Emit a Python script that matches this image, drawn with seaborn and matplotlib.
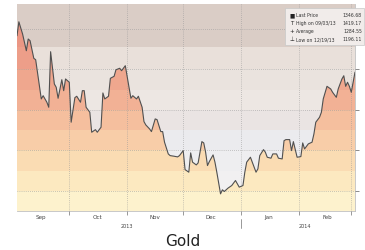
import numpy as np
import pandas as pd
import matplotlib as mpl
mpl.use("Agg")
from matplotlib import pyplot as plt
import matplotlib.dates as mdates
import seaborn as sns

# gold price (Sep 2013 - Mar 2014)
dates = ["2013-09-03", "2013-09-04", "2013-09-06", "2013-09-08", "2013-09-09", "2013-09-10",
         "2013-09-12", "2013-09-13", "2013-09-15", "2013-09-16", "2013-09-17", "2013-09-19",
         "2013-09-20", "2013-09-21", "2013-09-23", "2013-09-24", "2013-09-25", "2013-09-27",
         "2013-09-28", "2013-09-29", "2013-10-01", "2013-10-02", "2013-10-04", "2013-10-05",
         "2013-10-07", "2013-10-08", "2013-10-09", "2013-10-10", "2013-10-12", "2013-10-13",
         "2013-10-15", "2013-10-16", "2013-10-18", "2013-10-19", "2013-10-20", "2013-10-22",
         "2013-10-23", "2013-10-25", "2013-10-26", "2013-10-28", "2013-10-29", "2013-10-31",
         "2013-11-02", "2013-11-03", "2013-11-04", "2013-11-06", "2013-11-07", "2013-11-09",
         "2013-11-10", "2013-11-11", "2013-11-13", "2013-11-14", "2013-11-16", "2013-11-17",
         "2013-11-19", "2013-11-20", "2013-11-21", "2013-11-23", "2013-11-24", "2013-11-26",
         "2013-11-28", "2013-11-29", "2013-12-01", "2013-12-02", "2013-12-04", "2013-12-05",
         "2013-12-06", "2013-12-08", "2013-12-09", "2013-12-11", "2013-12-12", "2013-12-13",
         "2013-12-14", "2013-12-15", "2013-12-17", "2013-12-18", "2013-12-19", "2013-12-21",
         "2013-12-22", "2013-12-23", "2013-12-25", "2013-12-27", "2013-12-29", "2013-12-30",
         "2013-12-31", "2014-01-02", "2014-01-03", "2014-01-04", "2014-01-06", "2014-01-07",
         "2014-01-09", "2014-01-10", "2014-01-11", "2014-01-13", "2014-01-14", "2014-01-15",
         "2014-01-17", "2014-01-18", "2014-01-20", "2014-01-21", "2014-01-23", "2014-01-24",
         "2014-01-25", "2014-01-27", "2014-01-28", "2014-01-29", "2014-01-30", "2014-01-31",
         "2014-02-02", "2014-02-03", "2014-02-04", "2014-02-06", "2014-02-08", "2014-02-09",
         "2014-02-10", "2014-02-12", "2014-02-13", "2014-02-14", "2014-02-16", "2014-02-18",
         "2014-02-19", "2014-02-21", "2014-02-22", "2014-02-24", "2014-02-25", "2014-02-26",
         "2014-02-27", "2014-02-28", "2014-03-01", "2014-03-02", "2014-03-03"]
prices = [1391.7, 1409.0, 1393.8, 1373.2, 1387.7, 1385.6, 1363.8, 1362.1, 1330.0, 1313.6,
          1317.6, 1309.5, 1303.3, 1372.0, 1332.1, 1328.0, 1314.4, 1337.4, 1323.8, 1338.3,
          1334.2, 1284.8, 1315.2, 1316.9, 1309.5, 1323.8, 1323.8, 1303.3, 1297.1, 1272.4,
          1275.6, 1272.4, 1278.6, 1321.0, 1313.6, 1316.9, 1339.1, 1341.6, 1349.7, 1351.5,
          1348.5, 1354.7, 1328.0, 1314.4, 1317.6, 1313.6, 1316.9, 1303.3, 1285.5, 1281.4,
          1276.5, 1273.2, 1288.9, 1288.0, 1273.2, 1273.2, 1260.1, 1245.6, 1243.5, 1242.8,
          1241.9, 1243.5, 1249.7, 1226.2, 1223.0, 1246.9, 1235.4, 1232.0, 1234.5, 1260.8,
          1259.2, 1247.7, 1231.2, 1236.1, 1244.4, 1235.4, 1223.0, 1196.2, 1201.2, 1199.1,
          1203.3, 1206.5, 1212.7, 1208.6, 1204.5, 1206.5, 1223.0, 1235.4, 1241.5, 1235.4,
          1223.0, 1227.1, 1243.5, 1250.9, 1247.7, 1241.5, 1240.3, 1245.6, 1245.6, 1240.3,
          1239.4, 1262.0, 1263.3, 1263.3, 1249.7, 1260.8, 1250.9, 1241.5, 1242.3, 1259.2,
          1251.8, 1258.0, 1260.1, 1270.3, 1284.8, 1290.9, 1297.1, 1313.6, 1329.2, 1325.9,
          1321.8, 1315.6, 1325.9, 1338.3, 1342.3, 1329.2, 1334.2, 1329.2, 1321.8, 1334.2,
          1346.68]

legend_labels = ["Last Price", "High on 09/03/13", "Average", "Low on 12/19/13"]
legend_values = ["1346.68", "1419.17", "1284.55", "1196.11"]
years = ["2013", "2014"]

# horizontal colour bands (bottom -> top)
band_edges = [1175, 1200, 1225, 1250, 1275, 1300, 1325, 1350, 1378, 1431]
bg_colors = ["#f7f4f0", "#f1f0f1", "#eeeef0", "#ebebee", "#eae4e3",
             "#ede7e3", "#eae3de", "#e9e0da", "#dacdc6"]
fill_colors = ["#fdf2cd", "#fce9c0", "#fadcb3", "#f8cda8", "#f5bf9e",
               "#f2b195", "#efa78e", "#ed9e89", "#eb9784"]

df = pd.DataFrame({"date": pd.to_datetime(dates), "price": prices})

sns.set_style("white")
plt.rcParams["font.family"] = ["DejaVu Sans"]
small = dict(family="DejaVu Sans", stretch="condensed")

fig = plt.figure(figsize=(3.65, 2.51), dpi=100)
ax = fig.add_axes([17 / 365, 1 - 212 / 251, 338 / 365, 207 / 251])

ymin, ymax = band_edges[0], band_edges[-1]
ax.set_ylim(ymin, ymax)
ax.set_xlim(pd.Timestamp("2013-09-03"), pd.Timestamp("2014-03-03"))

for lo, hi, c in zip(band_edges[:-1], band_edges[1:], bg_colors):
    ax.axhspan(lo, hi, color=c, lw=0, zorder=0)

# area under the line, banded
area = ax.fill_between(df["date"], ymin, df["price"], color="none", lw=0)
clip = area.get_paths()[0]
for lo, hi, c in zip(band_edges[:-1], band_edges[1:], fill_colors):
    span = ax.axhspan(lo, hi, color=c, lw=0, zorder=1)
    span.set_clip_path(clip, ax.transData)

sns.lineplot(data=df, x="date", y="price", ax=ax, color="#505050", lw=0.8, zorder=3)

# grid
ax.yaxis.tick_right()
ax.set_yticks([1200, 1250, 1300, 1350, 1400])
ax.set_yticklabels([])
ax.tick_params(axis="y", right=True, length=3, width=0.6, color="#777777")
ax.xaxis.set_major_locator(mdates.MonthLocator())
ax.xaxis.set_major_formatter(mpl.ticker.NullFormatter())
ax.xaxis.set_minor_locator(mdates.MonthLocator(bymonthday=16))
ax.xaxis.set_minor_formatter(mdates.DateFormatter("%b"))
ax.tick_params(axis="x", which="major", bottom=True, length=3, width=0.6, color="#888888")
ax.tick_params(axis="x", which="minor", length=0, labelsize=4.5, labelcolor="#444444", pad=2)
for lab in ax.get_xticklabels(minor=True):
    lab.set_fontstretch("condensed")
ax.grid(True, which="major", ls=(0, (1, 2)), lw=0.5, color="#999999", zorder=2)
ax.set_axisbelow(False)
ax.set_xlabel("")
ax.set_ylabel("")
for side in ["top", "left"]:
    ax.spines[side].set_visible(False)
ax.spines["bottom"].set_color("#bfbfbf")
ax.spines["right"].set_color("#bfbfbf")
ax.spines["bottom"].set_linewidth(0.6)
ax.spines["right"].set_linewidth(0.6)

# year labels
trans = mpl.transforms.blended_transform_factory(ax.transData, ax.transAxes)
ax.text(pd.Timestamp("2013-11-01"), -0.06, years[0], transform=trans, ha="center", va="top",
        fontsize=4, color="#444444", **small)
ax.text(pd.Timestamp("2014-02-04"), -0.06, years[1], transform=trans, ha="center", va="top",
        fontsize=4, color="#444444", **small)
ax.plot([pd.Timestamp("2014-01-01")] * 2, [-0.04, -0.08], transform=trans, clip_on=False,
        color="#888888", lw=0.6)

# legend box
box = mpl.patches.Rectangle((285 / 365, 1 - 46 / 251), 79 / 365, 37 / 251, transform=fig.transFigure,
                            facecolor="#f1ecea", edgecolor="#c8c8c8", lw=0.5, zorder=5)
fig.patches.append(box)
symbols = ["\u25a0", "T", "+", "\u22a5"]
for i, (lab, val, sym) in enumerate(zip(legend_labels, legend_values, symbols)):
    yy = 1 - (15.5 + 8 * i) / 251
    fig.text(292 / 365, yy, sym, fontsize=4, ha="center", va="center", color="#222222", zorder=6)
    fig.text(296 / 365, yy, lab, fontsize=3.7, ha="left", va="center", color="#333333",
             zorder=6, **small)
    fig.text(362 / 365, yy, val, fontsize=3.7, ha="right", va="center", color="#333333",
             zorder=6, **small)
fig.add_artist(mpl.lines.Line2D([289 / 365, 289 / 365], [1 - 13 / 251, 1 - 41 / 251],
                                color="#555555", lw=0.4))

fig.text(0.5, 1 - 242 / 251, "Gold", ha="center", va="center", fontsize=11, color="#222222")

fig.savefig("out.png", dpi=100)
